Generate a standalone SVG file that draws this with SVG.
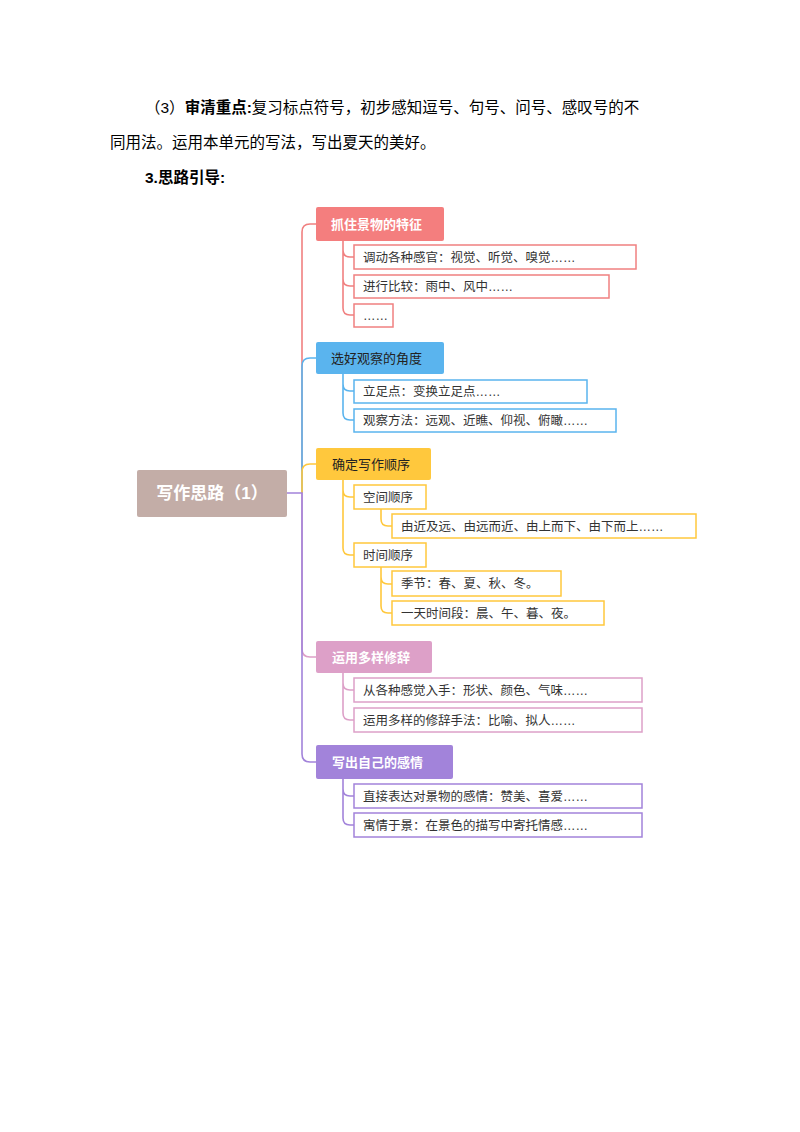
<svg xmlns="http://www.w3.org/2000/svg" width="800" height="1132" viewBox="0 0 800 1132">
<style>
text{font-family:"Liberation Sans","Noto Sans CJK SC",sans-serif;}
.p{font-size:15.5px;fill:#000;}
.b{font-weight:bold;}
.m{font-size:13px;font-weight:bold;fill:#fff;}
.c{font-size:12.5px;fill:#333;}
.cb{fill:#fff;stroke-width:1.5;}
.ln{fill:none;stroke-width:1.6;}
</style>
<rect width="800" height="1132" fill="#fff"/>
<text class="p" x="145" y="113">（3）<tspan class="b">审清重点:</tspan>复习标点符号，初步感知逗号、句号、问号、感叹号的不</text>
<text class="p" x="110" y="148">同用法。运用本单元的写法，写出夏天的美好。</text>
<text class="p b" x="145" y="183">3.思路引导:</text>
<g id="connectors">
<path class="ln" stroke="#F08080" d="M302,493 V232 Q302,224 310,224 H316"/>
<path class="ln" stroke="#5AB4EE" d="M302,493 V366 Q302,358 310,358 H316"/>
<path class="ln" stroke="#FFC83D" d="M302,493 V472 Q302,464 310,464 H316"/>
<path class="ln" stroke="#DDA0C8" d="M302,493 V649 Q302,657 310,657 H316"/>
<path class="ln" stroke="#A283DA" d="M287,493 H302 V754 Q302,762 310,762 H316"/>
<path class="ln" stroke="#F08080" d="M343,241 V250 Q343,257 350,257 H354 M343,250 V279 Q343,286 350,286 H354 M343,279 V308 Q343,315 350,315 H354"/>
<path class="ln" stroke="#5AB4EE" d="M343,374 V384 Q343,391 350,391 H354 M343,384 V413 Q343,420 350,420 H354"/>
<path class="ln" stroke="#FFC83D" d="M343,480 V490 Q343,497 350,497 H354 M343,490 V548 Q343,555 350,555 H354"/>
<path class="ln" stroke="#FFC83D" d="M381,509 V519 Q381,526 388,526 H392 M381,567 V577 Q381,584 388,584 H392 M381,577 V606 Q381,613 388,613 H392"/>
<path class="ln" stroke="#DDA0C8" d="M343,673 V683 Q343,690 350,690 H354 M343,683 V713 Q343,720 350,720 H354"/>
<path class="ln" stroke="#A283DA" d="M343,779 V789 Q343,796 350,796 H354 M343,789 V818 Q343,825 350,825 H354"/>
</g>
<g id="root"><rect x="137" y="470" width="150" height="47" rx="2" fill="#C3ADA7"/><text x="212" y="499" text-anchor="middle" font-size="17" font-weight="bold" fill="#fff">写作思路（1）</text></g>
<g id="n1"><rect x="316" y="207" width="128" height="34" rx="2" fill="#F47E7E"/><text class="m" x="331" y="229">抓住景物的特征</text></g>
<g id="n1a"><rect class="cb" stroke="#F08080" x="354" y="245" width="282" height="24"/><text class="c" x="363" y="262">调动各种感官：视觉、听觉、嗅觉……</text></g>
<g id="n1b"><rect class="cb" stroke="#F08080" x="354" y="275" width="255" height="23"/><text class="c" x="363" y="291">进行比较：雨中、风中……</text></g>
<g id="n1c"><rect class="cb" stroke="#F08080" x="354" y="304" width="39" height="23"/><text class="c" x="363" y="320">……</text></g>
<g id="n2"><rect x="316" y="342" width="128" height="32" rx="2" fill="#5AB4EE"/><text class="m" x="331" y="363" style="fill:#222;font-weight:normal">选好观察的角度</text></g>
<g id="n2a"><rect class="cb" stroke="#5AB4EE" x="354" y="380" width="233" height="23"/><text class="c" x="363" y="396">立足点：变换立足点……</text></g>
<g id="n2b"><rect class="cb" stroke="#5AB4EE" x="354" y="409" width="262" height="23"/><text class="c" x="363" y="425">观察方法：远观、近瞧、仰视、俯瞰……</text></g>
<g id="n3"><rect x="316" y="448" width="115" height="32" rx="2" fill="#FFC83D"/><text class="m" x="332" y="469" style="fill:#222;font-weight:normal">确定写作顺序</text></g>
<g id="n3a"><rect class="cb" stroke="#FFC83D" x="354" y="485" width="72" height="24"/><text class="c" x="363" y="502">空间顺序</text></g>
<g id="n3a1"><rect class="cb" stroke="#FFC83D" x="392" y="514" width="304" height="24"/><text class="c" x="401" y="531">由近及远、由远而近、由上而下、由下而上……</text></g>
<g id="n3b"><rect class="cb" stroke="#FFC83D" x="354" y="543" width="72" height="24"/><text class="c" x="363" y="560">时间顺序</text></g>
<g id="n3b1"><rect class="cb" stroke="#FFC83D" x="392" y="571" width="169" height="25"/><text class="c" x="401" y="588">季节：春、夏、秋、冬。</text></g>
<g id="n3b2"><rect class="cb" stroke="#FFC83D" x="392" y="601" width="212" height="24"/><text class="c" x="401" y="618">一天时间段：晨、午、暮、夜。</text></g>
<g id="n4"><rect x="316" y="641" width="116" height="32" rx="2" fill="#DDA0C8"/><text class="m" x="332" y="662">运用多样修辞</text></g>
<g id="n4a"><rect class="cb" stroke="#DDA0C8" x="354" y="678" width="288" height="24"/><text class="c" x="363" y="695">从各种感觉入手：形状、颜色、气味……</text></g>
<g id="n4b"><rect class="cb" stroke="#DDA0C8" x="354" y="708" width="288" height="24"/><text class="c" x="363" y="725">运用多样的修辞手法：比喻、拟人……</text></g>
<g id="n5"><rect x="316" y="745" width="137" height="34" rx="2" fill="#A283DA"/><text class="m" x="332" y="767">写出自己的感情</text></g>
<g id="n5a"><rect class="cb" stroke="#A283DA" x="354" y="784" width="288" height="24"/><text class="c" x="363" y="801">直接表达对景物的感情：赞美、喜爱……</text></g>
<g id="n5b"><rect class="cb" stroke="#A283DA" x="354" y="813" width="288" height="24"/><text class="c" x="363" y="830">寓情于景：在景色的描写中寄托情感……</text></g>
</svg>
